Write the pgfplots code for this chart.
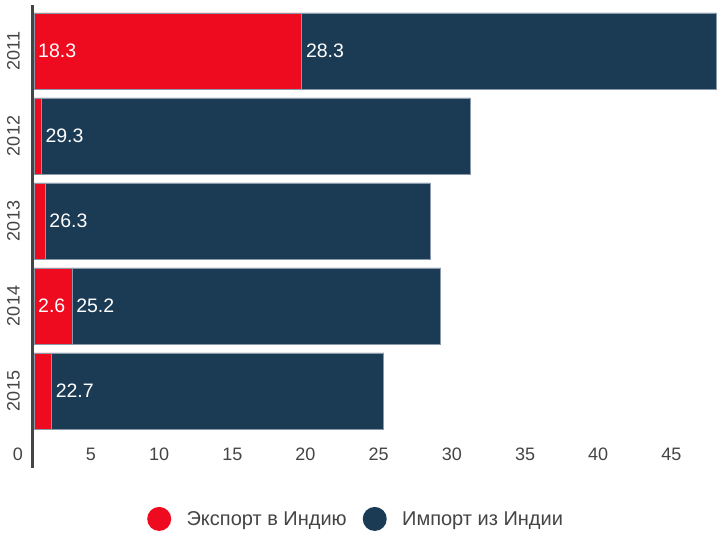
\documentclass[border=0pt]{standalone}
\usepackage{pgfplots}
\pgfplotsset{compat=1.18}
\usepackage{fontspec}
\setmainfont{Liberation Sans}
\definecolor{expred}{HTML}{EE0A1F}
\definecolor{impblue}{HTML}{1B3A54}
\definecolor{txtgray}{HTML}{444444}
\definecolor{edge}{HTML}{8A9AAA}
\pgfplotstableread{
y exp imp
0 18.3 28.3
1 0.5 29.3
2 0.77 26.3
3 2.6 25.2
4 1.2 22.7
}\datatable
\begin{document}
\begin{tikzpicture}[x=1pt,y=1pt]
\useasboundingbox (0,0) rectangle (724,544);
\pgfplotsset{
  common/.style={
    at={(34pt,76pt)}, anchor=south west,
    scale only axis, width=682pt, height=463pt,
    xmin=0, xmax=46.6, ymin=-0.541, ymax=4.906,
    y dir=reverse,
    axis line style={draw=none},
    tick style={draw=none},
    clip=false,
    /pgf/number format/assume math mode=true,
  }
}
\begin{axis}[common,
    xbar stacked, bar width=76pt,
    xtick={0,5,...,45},
    xticklabel style={font=\fontsize{18}{20}\selectfont, text=txtgray, anchor=north east, inner sep=0pt, xshift=-11pt, yshift=20.5pt},
    ytick={0,1,2,3,4},
    yticklabels={2011,2012,2013,2014,2015},
    yticklabel style={font=\fontsize{18}{20}\selectfont, text=txtgray, rotate=90, anchor=south, inner sep=0pt},
    yticklabel shift=14pt,
    legend style={at={(0.1657,-0.110)}, anchor=west, draw=none, inner sep=0pt, legend columns=2,
      font=\fontsize{20}{22}\selectfont, text=txtgray,
      nodes={inner sep=0pt},
      /tikz/every even column/.append style={column sep=16pt}},
    legend image code/.code={\fill[#1,draw=none] (0pt,0pt) circle (12pt); \path (27pt,0pt);},
  ]
\addplot[fill=expred, draw=edge, line width=0.8pt] table[x=exp, y=y] {\datatable};
\addlegendentry{Экспорт в Индию}
\addplot[fill=impblue, draw=edge, line width=0.8pt] table[x=imp, y=y] {\datatable};
\addlegendentry{Импорт из Индии}
\draw[txtgray, line width=3pt] ([xshift=-1.5pt]axis cs:0,-0.541) -- ([xshift=-1.5pt]axis cs:0,4.906);
\end{axis}
\begin{axis}[common, xtick=\empty, ytick=\empty]
\addplot[only marks, mark=none, nodes near coords, point meta=explicit symbolic,
  nodes near coords style={anchor=west, text=white, inner sep=0pt, xshift=4pt, font=\fontsize{19.5}{22}\selectfont}]
  coordinates {(0,0)[18.3] (18.3,0)[28.3] (0.5,1)[29.3] (0.77,2)[26.3] (0,3)[2.6] (2.6,3)[25.2] (1.2,4)[22.7]};
\end{axis}
\end{tikzpicture}
\end{document}
